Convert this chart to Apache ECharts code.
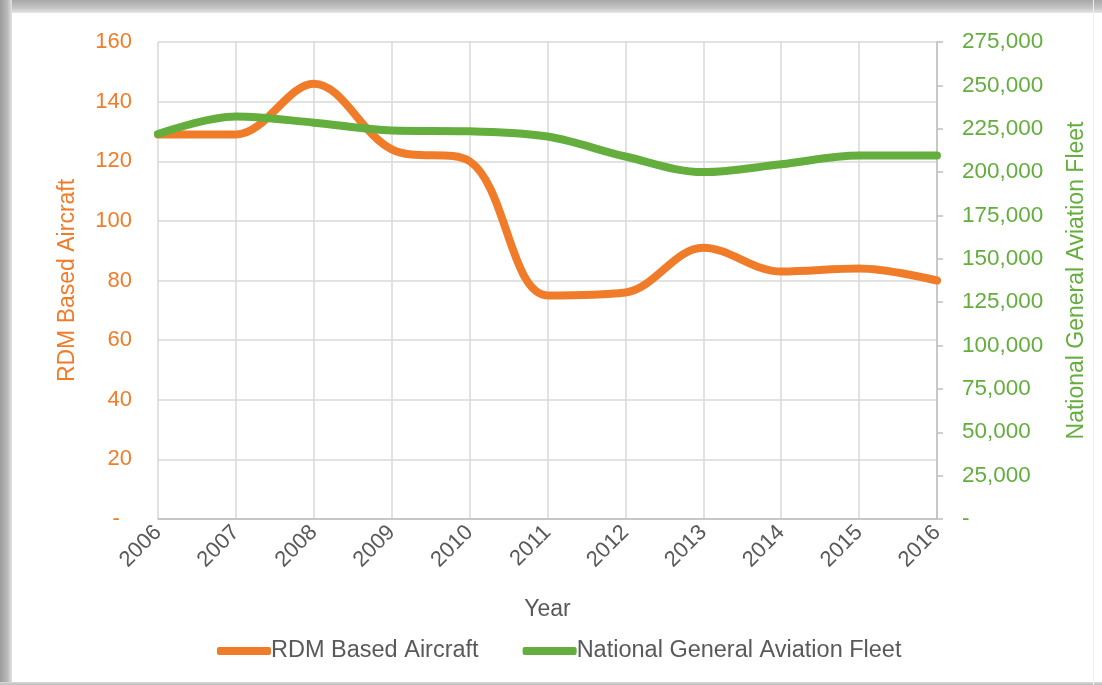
<!DOCTYPE html>
<html>
<head>
<meta charset="utf-8">
<script src="https://cdn.jsdelivr.net/npm/echarts@6/dist/echarts.min.js"></script>
<style>
  html, body { margin: 0; padding: 0; background: #fff; }
  #wrap { position: relative; width: 1102px; height: 685px; overflow: hidden; background: #fff; }
  #chart { position: absolute; left: 0; top: 0; width: 1102px; height: 685px; }
  .edge-top { position: absolute; left: 0; top: 0; width: 1102px; height: 13px;
    background: linear-gradient(to bottom, #a8a8a8, #c4c4c4 60%, #e6e6e6); }
  .edge-left { position: absolute; left: 0; top: 0; width: 12px; height: 685px;
    background: linear-gradient(to right, #9c9c9c, #b8b8b8 60%, #e2e2e2); }
  .edge-bottom { position: absolute; left: 0; top: 682px; width: 1102px; height: 3px;
    background: linear-gradient(to bottom, #d8d8d8, #bdbdbd); }
  .edge-right { position: absolute; left: 1093px; top: 0; width: 1px; height: 685px; background: #f0f0f0; }
</style>
</head>
<body>
<div id="wrap">
  <div id="chart"></div>
  <div class="edge-top"></div>
  <div class="edge-left"></div>
  <div class="edge-bottom"></div>
  <div class="edge-right"></div>
</div>
<script>
// Years on the category axis
const years = ['2006', '2007', '2008', '2009', '2010', '2011', '2012', '2013', '2014', '2015', '2016'];
// Aircraft based at RDM (left axis)
const rdmBased = [129, 129, 146, 124, 120, 75, 76, 91, 83, 84, 80];
// National general aviation fleet size (right axis)
const nationalFleet = [222000, 232000, 228500, 224000, 223500, 220500, 209000, 200000, 204500, 209500, 209500];

const ORANGE = '#F07C2A';
const GREEN = '#63AE3C';
const GRAY_TEXT = '#595959';
const FONT = 'Liberation Sans, Arial, sans-serif';

const chart = echarts.init(document.getElementById('chart'));

chart.setOption({
  animation: false,
  grid: { left: 158, right: 165, top: 42, bottom: 166, containLabel: false },
  legend: {
    bottom: 17,
    left: 212,
    itemWidth: 54,
    itemHeight: 8,
    itemGap: 44,
    icon: 'roundRect',
    textStyle: { color: GRAY_TEXT, fontSize: 23.5, fontFamily: FONT, padding: [0, 0, 0, -5] },
    data: ['RDM Based Aircraft', 'National General Aviation Fleet']
  },
  xAxis: {
    type: 'category',
    data: years,
    boundaryGap: false,
    name: 'Year',
    nameLocation: 'middle',
    nameGap: 79,
    nameTextStyle: { color: GRAY_TEXT, fontSize: 23, fontFamily: FONT },
    axisLine: { lineStyle: { color: '#BFBFBF', width: 1.5 } },
    axisTick: { show: false },
    axisLabel: {
      rotate: 45, color: GRAY_TEXT, fontSize: 22, fontFamily: FONT, margin: 10,
      interval: 0
    },
    splitLine: { show: true, lineStyle: { color: '#D9D9D9', width: 1.5 } }
  },
  yAxis: [
    {
      type: 'value',
      min: 0, max: 160, interval: 20,
      name: 'RDM Based Aircraft',
      nameLocation: 'middle',
      nameGap: 79,
      nameRotate: 90,
      nameTextStyle: { color: ORANGE, fontSize: 23, fontFamily: FONT },
      axisLine: { show: false },
      axisTick: { show: false },
      axisLabel: {
        color: ORANGE, fontSize: 22, fontFamily: FONT, margin: 26,
        formatter: v => (v === 0 ? '-  ' : String(v))
      },
      splitLine: { show: true, lineStyle: { color: '#D9D9D9', width: 1.5 } }
    },
    {
      type: 'value',
      min: 0, max: 275000, interval: 25000,
      position: 'right',
      name: 'National General Aviation Fleet',
      nameLocation: 'middle',
      nameGap: 128,
      nameRotate: 90,
      nameTextStyle: { color: GREEN, fontSize: 23, fontFamily: FONT },
      axisLine: { show: true, lineStyle: { color: '#BFBFBF', width: 1.5 } },
      axisTick: { show: true, inside: false, length: 6, lineStyle: { color: '#BFBFBF', width: 1.5 } },
      axisLabel: {
        color: GREEN, fontSize: 22.5, fontFamily: FONT, margin: 25,
        formatter: v => (v === 0 ? '-' : v.toLocaleString('en-US'))
      },
      splitLine: { show: false }
    }
  ],
  series: [
    {
      name: 'RDM Based Aircraft',
      type: 'line',
      yAxisIndex: 0,
      data: rdmBased,
      smooth: 0.35,
      symbol: 'none',
      lineStyle: { color: ORANGE, width: 8, cap: 'round' },
      itemStyle: { color: ORANGE },
      z: 2
    },
    {
      name: 'National General Aviation Fleet',
      type: 'line',
      yAxisIndex: 1,
      data: nationalFleet,
      smooth: 0.35,
      symbol: 'none',
      lineStyle: { color: GREEN, width: 8, cap: 'round' },
      itemStyle: { color: GREEN },
      z: 3
    }
  ]
});
</script>
</body>
</html>
